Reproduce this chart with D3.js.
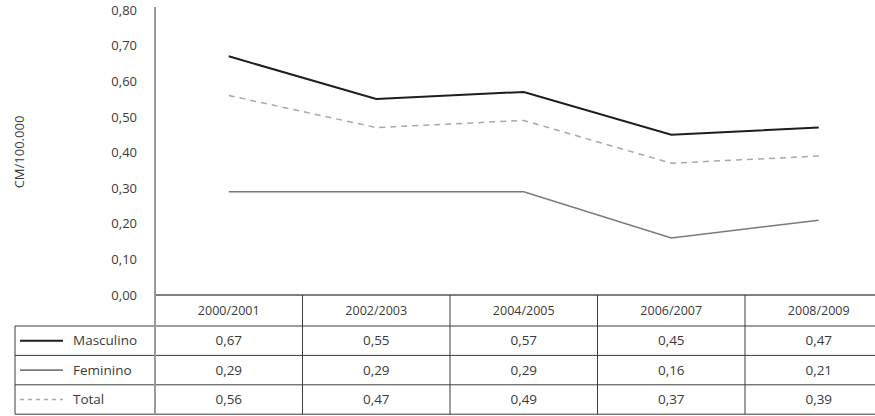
<!DOCTYPE html>
<html>
<head>
<meta charset="utf-8">
<script src="https://cdn.jsdelivr.net/npm/d3@7"></script>
<style>
  body { margin: 0; background: #fff; }
  svg text { font-family: "Open Sans", sans-serif; fill: #3a3a3a; }
</style>
</head>
<body>
<svg id="chart"></svg>
<script>
// periods on the x axis
const periods = ['2000/2001', '2002/2003', '2004/2005', '2006/2007', '2008/2009'];
const masculino = [0.67, 0.55, 0.57, 0.45, 0.47];
const feminino = [0.29, 0.29, 0.29, 0.16, 0.21];
const total = [0.56, 0.47, 0.49, 0.37, 0.39];
const yTicks = [0, 0.1, 0.2, 0.3, 0.4, 0.5, 0.6, 0.7, 0.8];

const series = [
    {name: 'Masculino', values: masculino, color: '#1e1e1e', width: 2, dash: null},
    {name: 'Feminino', values: feminino, color: '#7a7a7a', width: 1.6, dash: null},
    {name: 'Total', values: total, color: '#a8a8a8', width: 1.5, dash: '6,5'}
];

const width = 875, height = 416;
const fmt = d => d3.format('.2f')(d).replace('.', ',');

const svg = d3.select('#chart')
    .attr('width', width)
    .attr('height', height);

// x is a band scale so the table columns line up with the points
const xScale = d3.scaleBand()
    .domain(periods)
    .range([155, 892.5]);

const yScale = d3.scaleLinear()
    .domain([0, 0.8])
    .range([295, 10]);

// y axis: labels only, line drawn separately
const yAxis = d3.axisLeft(yScale)
    .tickValues(yTicks)
    .tickSize(0)
    .tickPadding(18)
    .tickFormat(fmt);

svg.append('g')
    .attr('transform', 'translate(155,0)')
    .call(yAxis)
    .call(g => g.select('.domain').remove())
    .selectAll('text')
    .style('font-size', '13px')
    .attr('fill', '#3a3a3a');

svg.append('text')
    .attr('transform', 'translate(24,152) rotate(-90)')
    .attr('text-anchor', 'middle')
    .style('font-size', '13px')
    .text('CM/100.000');

// lines
const line = d3.line()
    .x((d, i) => xScale(periods[i]) + xScale.bandwidth() / 2)
    .y(d => yScale(d));

svg.selectAll('.series')
    .data(series)
    .join('path')
    .attr('class', 'series')
    .attr('fill', 'none')
    .attr('stroke', d => d.color)
    .attr('stroke-width', d => d.width)
    .attr('stroke-dasharray', d => d.dash)
    .attr('d', d => line(d.values));

// data table under the chart
const headerTop = 295, headerBottom = 326, rowH = 29.4;
const tableLeft = 15, legendSplit = 155;
const tableBottom = headerBottom + rowH * series.length;

const grid = svg.append('g').attr('stroke', '#3c3c3c').attr('stroke-width', 1);

// x axis line / top of header
grid.append('line')
    .attr('x1', legendSplit).attr('x2', width)
    .attr('y1', headerTop).attr('y2', headerTop)
    .attr('stroke', '#555').attr('stroke-width', 1.6);

// row lines
d3.range(series.length + 1).forEach(i => {
    const y = headerBottom + i * rowH;
    grid.append('line')
        .attr('x1', tableLeft).attr('x2', width)
        .attr('y1', y).attr('y2', y);
});

// column separators
periods.slice(1).forEach(p => {
    grid.append('line')
        .attr('x1', xScale(p)).attr('x2', xScale(p))
        .attr('y1', headerTop).attr('y2', tableBottom);
});

grid.append('line')
    .attr('x1', tableLeft).attr('x2', tableLeft)
    .attr('y1', headerBottom).attr('y2', tableBottom);

// y axis line runs down through the table
svg.append('line')
    .attr('x1', legendSplit).attr('x2', legendSplit)
    .attr('y1', 7).attr('y2', tableBottom)
    .attr('stroke', '#9a9a9a')
    .attr('stroke-width', 2);

// header labels
svg.selectAll('.period')
    .data(periods)
    .join('text')
    .attr('class', 'period')
    .attr('x', d => xScale(d) + xScale.bandwidth() / 2)
    .attr('y', (headerTop + headerBottom) / 2)
    .attr('dy', '0.35em')
    .attr('text-anchor', 'middle')
    .style('font-size', '12.5px')
    .text(d => d);

// rows
const rows = svg.selectAll('.row')
    .data(series)
    .join('g')
    .attr('class', 'row')
    .attr('transform', (d, i) => `translate(0,${headerBottom + rowH * i + rowH / 2})`);

rows.append('line')
    .attr('x1', 20).attr('x2', 63)
    .attr('stroke', d => d.color)
    .attr('stroke-width', d => d.width)
    .attr('stroke-dasharray', d => d.dash ? '4,4' : null);

rows.append('text')
    .attr('x', 73)
    .attr('dy', '0.35em')
    .style('font-size', '13.5px')
    .text(d => d.name);

rows.selectAll('.val')
    .data(d => d.values)
    .join('text')
    .attr('class', 'val')
    .attr('x', (d, i) => xScale(periods[i]) + xScale.bandwidth() / 2)
    .attr('dy', '0.35em')
    .attr('text-anchor', 'middle')
    .style('font-size', '13.5px')
    .text(fmt);
</script>
</body>
</html>
